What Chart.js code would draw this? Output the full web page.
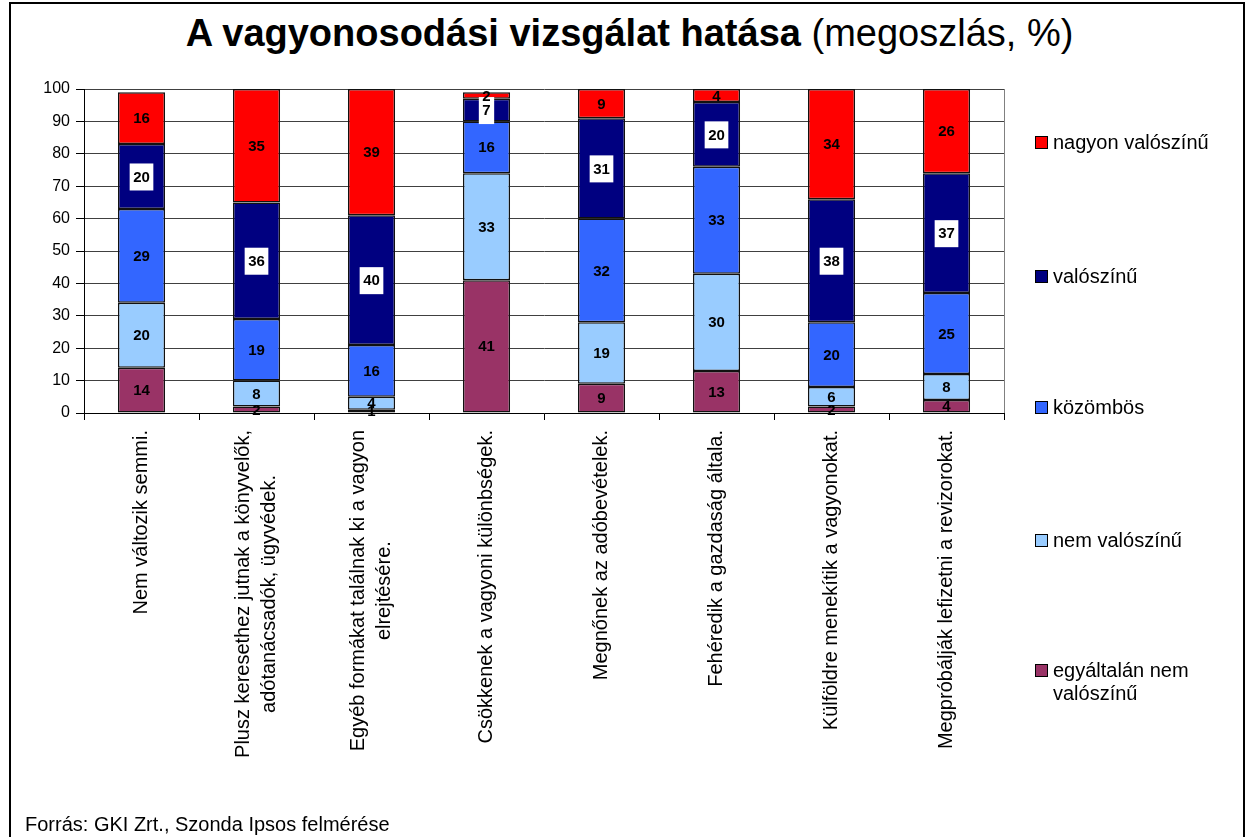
<!DOCTYPE html>
<html lang="hu">
<head>
  <meta charset="UTF-8" />
  <title>A vagyonosodási vizsgálat hatása</title>
  <script src="https://cdn.jsdelivr.net/npm/chart.js"></script>
  <style>
    html, body {
      margin: 0;
      width: 1247px;
      height: 837px;
      overflow: hidden;
      background: #fff;
      font-family: "Liberation Sans", Arial, sans-serif;
      color: #000;
    }
    #keret {
      position: absolute;
      left: 9px;
      top: 2px;
      width: 1232px;
      height: 900px;
      border: 2px solid #000;
    }
    #grafikon {
      position: absolute;
      left: 0;
      top: 0;
    }
    h1 {
      position: absolute;
      left: 6px;
      top: 12px;
      width: 1247px;
      margin: 0;
      text-align: center;
      font-size: 38px;
      font-weight: normal;
      white-space: nowrap;
    }
    .jelmagyarazat {
      position: absolute;
      left: 1035px;
      font-size: 20px;
      line-height: 23px;
    }
    .jelmagyarazat span.doboz {
      position: absolute;
      left: 0;
      top: 5px;
      width: 11px;
      height: 11px;
      border: 1px solid #000;
    }
    .jelmagyarazat span.szoveg {
      position: absolute;
      left: 18px;
      top: 0;
      white-space: nowrap;
    }
    #forras {
      position: absolute;
      left: 25px;
      top: 813px;
      font-size: 20px;
    }
  </style>
</head>
<body>

<div id="keret"></div>
<h1><b>A vagyonosodási vizsgálat hatása</b> (megoszlás, %)</h1>
<canvas id="grafikon" width="1247" height="837"></canvas>
<div id="legenda"></div>
<div id="forras">Forrás: GKI Zrt., Szonda Ipsos felmérése</div>

<script>
  const kategoriak = [
    ['Nem változik semmi.'],
    ['Plusz keresethez jutnak a könyvelők,', 'adótanácsadók, ügyvédek.'],
    ['Egyéb formákat találnak ki a vagyon', 'elrejtésére.'],
    ['Csökkenek a vagyoni különbségek.'],
    ['Megnőnek az adóbevételek.'],
    ['Fehéredik a gazdaság általa.'],
    ['Külföldre menekítik a vagyonokat.'],
    ['Megpróbálják lefizetni a revizorokat.']
  ];

  // alulról felfelé
  const egyaltalanNem   = [14, 2, 1, 41, 9, 13, 2, 4];
  const nemValoszinu    = [20, 8, 4, 33, 19, 30, 6, 8];
  const kozombos        = [29, 19, 16, 16, 32, 33, 20, 25];
  const valoszinu       = [20, 36, 40, 7, 31, 20, 38, 37];
  const nagyonValoszinu = [16, 35, 39, 2, 9, 4, 34, 26];

  const sorozatNevek = ['egyáltalán nem valószínű', 'nem valószínű', 'közömbös', 'valószínű', 'nagyon valószínű'];
  const sorozatSzinek = ['#993366', '#99CCFF', '#3366FF', '#000080', '#FF0000'];
  const sorozatAdatok = [egyaltalanNem, nemValoszinu, kozombos, valoszinu, nagyonValoszinu];

  const yMin = 0, yMax = 100, yLepes = 10;

  const betu = '"Liberation Sans", Arial, sans-serif';

  // értékek a szeletek közepén
  const adatCimkek = {
    id: 'adatCimkek',
    afterDatasetsDraw(chart) {
      const ctx = chart.ctx;
      ctx.save();
      ctx.font = 'bold 15px ' + betu;
      ctx.textAlign = 'center';
      ctx.textBaseline = 'middle';
      chart.data.datasets.forEach((ds, di) => {
        const meta = chart.getDatasetMeta(di);
        meta.data.forEach((oszlop, i) => {
          const szoveg = String(ds.data[i]);
          const y = (oszlop.y + oszlop.base) / 2;
          if (di === 3) {
            const w = ctx.measureText(szoveg).width + 7;
            ctx.fillStyle = '#fff';
            ctx.fillRect(oszlop.x - w / 2, y - 13, w, 27);
          }
          ctx.fillStyle = '#000';
          ctx.fillText(szoveg, oszlop.x, y + 1);
        });
      });
      ctx.restore();
    }
  };

  // függőleges kategóriafeliratok + jobb oldali keret
  const xFeliratok = {
    id: 'xFeliratok',
    afterDraw(chart) {
      const ctx = chart.ctx;
      const x = chart.scales.x;
      const area = chart.chartArea;
      ctx.save();
      ctx.strokeStyle = '#808080';
      ctx.lineWidth = 1;
      ctx.beginPath();
      ctx.moveTo(area.right + 0.5, area.top);
      ctx.lineTo(area.right + 0.5, area.bottom);
      ctx.stroke();

      ctx.font = '20px ' + betu;
      ctx.fillStyle = '#000';
      ctx.textAlign = 'center';
      ctx.textBaseline = 'middle';
      const sorKoz = 26;
      kategoriak.forEach((sorok, i) => {
        const px = x.getPixelForValue(i);
        const maxW = Math.max(...sorok.map(s => ctx.measureText(s).width));
        ctx.save();
        ctx.translate(px, area.bottom + 17 + maxW / 2);
        ctx.rotate(-Math.PI / 2);
        sorok.forEach((s, j) => {
          ctx.fillText(s, 0, (j - (sorok.length - 1) / 2) * sorKoz);
        });
        ctx.restore();
      });
      ctx.restore();
    }
  };

  new Chart(document.getElementById('grafikon'), {
    type: 'bar',
    data: {
      labels: kategoriak.map(k => k.join(' ')),
      datasets: sorozatNevek.map((nev, i) => ({
        label: nev,
        data: sorozatAdatok[i],
        backgroundColor: sorozatSzinek[i],
        borderColor: '#111',
        borderWidth: 1.5,
        borderSkipped: false,
        barPercentage: 0.41,
        categoryPercentage: 1
      }))
    },
    options: {
      responsive: false,
      animation: false,
      devicePixelRatio: 1,
      layout: { padding: { top: 89, right: 243, left: 0, bottom: 0 } },
      plugins: {
        legend: { display: false },
        tooltip: { enabled: false }
      },
      scales: {
        x: {
          stacked: true,
          ticks: { display: false },
          grid: { drawOnChartArea: false, offset: true, tickLength: 7, color: '#000' },
          border: { color: '#000', width: 1 },
          afterFit(s) { s.height = 837 - 413; }
        },
        y: {
          stacked: true,
          min: yMin,
          max: yMax,
          ticks: { stepSize: yLepes, color: '#000', font: { size: 16, family: betu }, padding: 6 },
          grid: { color: '#404040', tickLength: 8, tickColor: '#000' },
          border: { color: '#000', width: 1 },
          afterFit(s) { s.width = 84; }
        }
      }
    },
    plugins: [adatCimkek, xFeliratok]
  });

  // jelmagyarázat: felülről lefelé
  const legendaY = [142, 276, 407, 540, 670];
  const legenda = document.getElementById('legenda');
  sorozatNevek.slice().reverse().forEach((nev, i) => {
    const idx = sorozatNevek.length - 1 - i;
    const elem = document.createElement('div');
    elem.className = 'jelmagyarazat';
    elem.style.top = (legendaY[i] - 11) + 'px';
    const doboz = document.createElement('span');
    doboz.className = 'doboz';
    doboz.style.background = sorozatSzinek[idx];
    const szoveg = document.createElement('span');
    szoveg.className = 'szoveg';
    szoveg.innerHTML = nev === 'egyáltalán nem valószínű' ? 'egyáltalán nem<br>valószínű' : nev;
    elem.appendChild(doboz);
    elem.appendChild(szoveg);
    legenda.appendChild(elem);
  });
</script>
</body>
</html>
